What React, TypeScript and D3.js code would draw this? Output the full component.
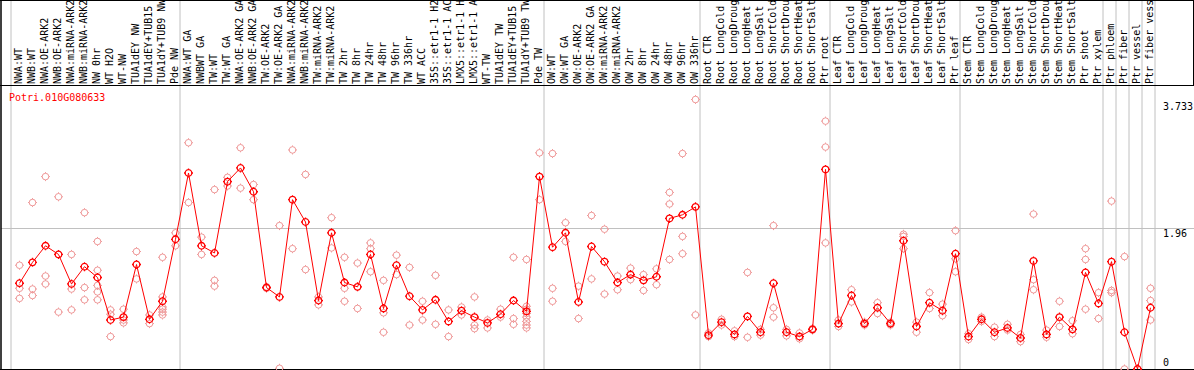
import React, { useRef, useEffect } from 'react';
import * as d3 from 'd3';

const geneId = "Potri.010G080633";

const categories = [
  "NWA:WT", "NWB:WT", "NWA:OE-ARK2", "NWB:OE-ARK2", "NWA:miRNA-ARK2", "NWB:miRNA-ARK2",
  "NW 0hr", "WT H2O", "WT-NW", "TUA1dEY NW", "TUA1dEY+TUB15 NW", "TUA1dY+TUB9 NW", "Pde NW",
  "NWA:WT GA", "NWBWT GA", "TW:WT", "TW:WT GA", "NWA:OE-ARK2 GA", "NWB:OE-ARK2 GA",
  "TW:OE-ARK2", "TW:OE-ARK2 GA", "NWA:miRNA-ARK2", "NWB:miRNA-ARK2", "TW:miRNA-ARK2",
  "TW:miRNA-ARK2", "TW 2hr", "TW 8hr", "TW 24hr", "TW 48hr", "TW 96hr", "TW 336hr", "WT ACC",
  "35S::etr1-1 H2O", "35S::etr1-1 ACC", "LMX5::etr1-1 H2O", "LMX5::etr1-1 ACC", "WT-TW",
  "TUA1dEY TW", "TUA1dEY+TUB15 TW", "TUA1dY+TUB9 TW", "Pde TW",
  "OW:WT", "OW:WT GA", "OW:OE-ARK2", "OW:OE-ARK2 GA", "OW:miRNA-ARK2", "OW:miRNA-ARK2",
  "OW 2hr", "OW 8hr", "OW 24hr", "OW 48hr", "OW 96hr", "OW 336hr",
  "Root CTR", "Root LongCold", "Root LongDrought", "Root LongHeat", "Root LongSalt",
  "Root ShortCold", "Root ShortDrought", "Root ShortHeat", "Root ShortSalt", "Ptr root",
  "Leaf CTR", "Leaf LongCold", "Leaf LongDrought", "Leaf LongHeat", "Leaf LongSalt",
  "Leaf ShortCold", "Leaf ShortDrought", "Leaf ShortHeat", "Leaf ShortSalt", "Ptr leaf",
  "Stem CTR", "Stem LongCold", "Stem LongDrought", "Stem LongHeat", "Stem LongSalt",
  "Stem ShortCold", "Stem ShortDrought", "Stem ShortHeat", "Stem ShortSalt", "Ptr shoot",
  "Ptr xylem", "Ptr phloem", "Ptr fiber", "Ptr vessel", "Ptr fiber vessel",
];

const means = [
  1.19, 1.48, 1.71, 1.59, 1.18, 1.42, 1.27, 0.68, 0.72, 1.45, 0.69, 0.94, 1.80,
  2.72, 1.71, 1.61, 2.60, 2.79, 2.46, 1.13, 1.00, 2.35, 2.04, 0.95, 1.89, 1.20, 1.14,
  1.59, 0.84, 1.44, 1.01, 0.82, 0.96, 0.66, 0.81, 0.72, 0.64, 0.76, 0.95, 0.80, 2.67,
  1.69, 1.89, 0.93, 1.70, 1.49, 1.20, 1.31, 1.23, 1.28, 2.09, 2.14, 2.25,
  0.47, 0.65, 0.48, 0.73, 0.51, 1.19, 0.51, 0.45, 0.55, 2.77,
  0.63, 1.02, 0.63, 0.85, 0.63, 1.78, 0.59, 0.92, 0.81, 1.60,
  0.45, 0.69, 0.51, 0.57, 0.43, 1.50, 0.48, 0.72, 0.55, 1.34, 0.91,
  1.49, 0.51, 0.00, 0.85,
];

const replicates = [
  [1.44, 1.12, 0.98], [2.31, 1.11, 1.02], [2.67, 1.29, 1.18], [2.39, 0.79, 1.59],
  [1.59, 1.11, 0.82], [2.17, 1.13, 0.96], [1.77, 1.37, 1.16, 1.07, 0.96], [0.82, 0.76, 0.45],
  [0.83, 0.68, 0.64], [1.63, 1.25], [0.75, 0.63], [1.55, 1.00, 0.86, 0.83, 0.79, 0.75],
  [1.89, 1.71],
  [3.14, 2.31], [1.83, 1.59], [2.49, 1.23, 1.15], [2.66, 2.54], [3.07, 2.51], [2.56, 2.35],
  [1.14, 1.12], [1.99, 0.01], [3.04, 1.67], [2.70, 1.38], [1.00, 0.89], [2.10, 1.68],
  [1.55, 1.12, 0.94], [1.47, 0.84], [1.75, 1.67, 1.35], [1.23, 0.78, 0.51], [1.58, 1.31],
  [1.41, 0.61], [0.94, 0.68], [1.30, 0.62], [0.82, 0.45], [0.86, 0.75], [1.00, 0.61, 0.56],
  [0.68, 0.57], [0.83, 0.72], [1.55, 0.70, 0.62], [1.52, 0.87, 0.83, 0.77, 0.72, 0.66, 0.61, 0.57],
  [3.00, 2.35],
  [2.99, 1.12, 0.94], [2.03, 1.77], [1.15, 0.70], [2.13, 1.25], [1.94, 1.04], [1.29, 1.10],
  [1.40, 1.24], [1.31, 1.09], [1.39, 1.17], [2.45, 2.29, 1.52], [2.99, 1.84, 1.60], [3.74, 0.75],
  [0.45, 0.50], [0.61, 0.69], [0.45, 0.53], [1.34, 0.44], [0.47, 0.55], [1.99, 0.85, 0.72],
  [0.46, 0.55], [0.50, 0.42], [0.56, 0.54], [3.44, 3.08, 1.75],
  [0.68, 0.59], [1.10, 0.93], [0.65, 0.61], [0.92, 0.77], [0.65, 0.61], [1.87, 1.84, 1.67],
  [0.65, 0.51], [1.06, 0.84], [0.90, 0.74], [1.92, 1.53, 1.35],
  [0.49, 0.41], [0.72, 0.66], [0.58, 0.45], [0.62, 0.54], [0.48, 0.38], [2.15, 1.24, 1.10],
  [0.54, 0.44], [0.94, 0.59], [0.67, 0.49], [1.67, 1.52, 0.83], [1.06, 0.70],
  [2.33, 1.09, 1.06], [1.56, 0.00], [0.00], [1.12, 0.95, 0.68],
];

// column counts after which a separator is drawn
const groupEnds = [0, 13, 41, 53, 63, 73, 84, 85, 86, 87, 88];
const yTicks = [0, 1.96, 3.733];

const width = 1194;
const height = 370;

const markerPath = (r: number, t: number) =>
  `M${-r},0a${r},${r} 0 1,0 ${2 * r},0a${r},${r} 0 1,0 ${-2 * r},0` +
  `M0,${-r}v${-t}M0,${r}v${t}M${-r},0h${-t}M${r},0h${t}`;

const App: React.FC = () => {
  const svgRef = useRef<SVGSVGElement>(null);

  useEffect(() => {
    if (!svgRef.current) return;
    const svg = d3.select(svgRef.current);
    svg.selectAll("*").remove();

    const font = "'DejaVu Sans Mono', monospace";
    const headerBottom = 85.5;
    const grey = "#c0c0c0";

    const x = d3.scaleBand<number>()
      .domain(d3.range(categories.length))
      .range([11, 11 + 13 * categories.length]);
    const y = d3.scaleLinear().domain([0, d3.max(yTicks) as number]).range([369, 100]);
    const px = (i: number) => (x(i) as number) + 8.5;

    svg.append("rect").attr("width", width).attr("height", height).attr("fill", "#fff");

    svg.append("defs").append("clipPath").attr("id", "hdr")
      .append("rect").attr("x", 0).attr("y", 1).attr("width", width).attr("height", headerBottom - 1);

    // header labels
    svg.append("g").attr("clip-path", "url(#hdr)")
      .selectAll("text")
      .data(categories)
      .enter().append("text")
      .attr("transform", (_, i) => `translate(${(x(i) as number) + 7.5},84) rotate(-90)`)
      .attr("dy", "0.35em")
      .style("font-family", font)
      .style("font-size", "10px")
      .style("fill", "#000")
      .text(d => d);

    // separators
    svg.append("g").selectAll("line")
      .data(groupEnds)
      .enter().append("line")
      .attr("x1", k => 11 + 13 * k).attr("x2", k => 11 + 13 * k)
      .attr("y1", 0).attr("y2", 369)
      .attr("stroke", grey).attr("stroke-width", 1);

    // horizontal grid for inner ticks
    const yMax = d3.max(yTicks) as number;
    svg.append("g").selectAll("line")
      .data(yTicks.filter(v => v > 0 && v < yMax))
      .enter().append("line")
      .attr("x1", 1).attr("x2", width)
      .attr("y1", v => Math.round(y(v)) + 0.5).attr("y2", v => Math.round(y(v)) + 0.5)
      .attr("stroke", grey).attr("stroke-width", 1);

    // frame
    const frame = svg.append("g").attr("stroke", "#000").attr("stroke-width", 1);
    frame.append("line").attr("x1", 0).attr("x2", width).attr("y1", 0.5).attr("y2", 0.5);
    frame.append("line").attr("x1", 0).attr("x2", width).attr("y1", headerBottom).attr("y2", headerBottom);
    frame.append("line").attr("x1", 0).attr("x2", width).attr("y1", 369.5).attr("y2", 369.5);
    frame.append("line").attr("x1", 1).attr("x2", 1).attr("y1", 0).attr("y2", height).attr("stroke-width", 1.5);
    frame.append("line").attr("x1", width - 0.5).attr("x2", width - 0.5).attr("y1", 0).attr("y2", headerBottom);

    // y tick labels
    svg.append("g").selectAll("text")
      .data(yTicks)
      .enter().append("text")
      .attr("x", 1163)
      .attr("y", v => (v === 0 ? y(v) - 3.5 : y(v) + 9.5))
      .style("font-family", font)
      .style("font-size", "10px")
      .style("fill", "#000")
      .text(v => String(v));

    // gene id
    svg.append("text")
      .attr("x", 9).attr("y", 100.5)
      .style("font-family", font)
      .style("font-size", "10px")
      .style("fill", "#ff0000")
      .text(geneId);

    // replicate points
    const reps = replicates.flatMap((vals, i) => vals.map(v => ({ i, v })));
    svg.append("g").selectAll("path")
      .data(reps)
      .enter().append("path")
      .attr("d", markerPath(3.3, 1.2))
      .attr("transform", d => `translate(${px(d.i)},${y(d.v)})`)
      .attr("fill", "none")
      .attr("stroke", "#ef9a9a")
      .attr("stroke-width", 1);

    // mean line
    const line = d3.line<number>().x((_, i) => px(i)).y(v => y(v));
    svg.append("path")
      .datum(means)
      .attr("d", line)
      .attr("fill", "none")
      .attr("stroke", "#ff0000")
      .attr("stroke-width", 1);

    // mean points
    svg.append("g").selectAll("path")
      .data(means)
      .enter().append("path")
      .attr("d", markerPath(3.3, 1.2))
      .attr("transform", (v, i) => `translate(${px(i)},${y(v)})`)
      .attr("fill", "none")
      .attr("stroke", "#ff0000")
      .attr("stroke-width", 1.3);
  }, []);

  return (
    <svg
      ref={svgRef}
      width={width}
      height={height}
      style={{ position: 'absolute', left: 0, top: 0, display: 'block' }}
    />
  );
};

export default App;
